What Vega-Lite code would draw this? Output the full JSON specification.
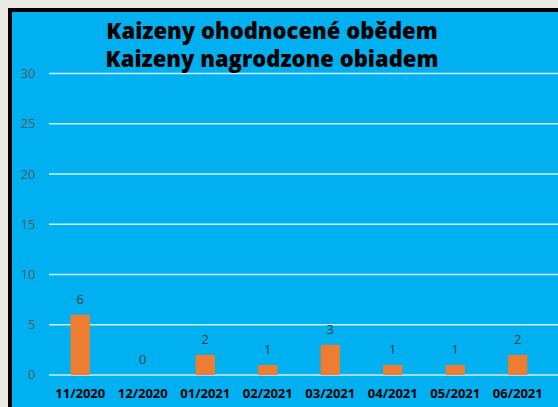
{
  "$schema": "https://vega.github.io/schema/vega-lite/v6.json",
  "width": 578,
  "height": 410,
  "autosize": "none",
  "padding": {"left": 10, "top": 10, "right": 0, "bottom": 0},
  "background": "#E9E8E1",
  "config": {
    "view": {"fill": "#00B0F0", "stroke": "#000000", "strokeWidth": 4},
    "font": "Open Sans"
  },
  "title": {
    "text": ["Kaizeny ohodnocené obědem", "Kaizeny nagrodzone obiadem"],
    "fontSize": 22,
    "fontWeight": 800,
    "font": "Open Sans",
    "color": "#000000",
    "lineHeight": 28,
    "anchor": "middle",
    "frame": "group",
    "offset": -62,
    "dx": -27
  },
  "data": {
    "values": [
      {"m": "11/2020", "v": 6},
      {"m": "12/2020", "v": 0},
      {"m": "01/2021", "v": 2},
      {"m": "02/2021", "v": 1},
      {"m": "03/2021", "v": 3},
      {"m": "04/2021", "v": 1},
      {"m": "05/2021", "v": 1},
      {"m": "06/2021", "v": 2}
    ]
  },
  "layer": [
    {
      "data": {"values": [{"g": 0}, {"g": 5}, {"g": 10}, {"g": 15}, {"g": 20}, {"g": 25}, {"g": 30}]},
      "mark": {"type": "rule", "color": "#D0EEFA", "strokeWidth": 1.5},
      "encoding": {
        "y": {
          "field": "g", "type": "quantitative",
          "scale": {"domain": [-4.48, 36.32], "nice": false, "zero": false},
          "axis": {
            "values": [0, 5, 10, 15, 20, 25, 30], "offset": -39, "title": null,
            "domain": false, "ticks": false, "grid": false,
            "labelColor": "#595959", "labelFontSize": 13, "labelPadding": 14, "labelFont": "Open Sans"
          }
        },
        "x": {
          "datum": "11/2020", "type": "ordinal", "bandPosition": 0,
          "scale": {
            "domain": ["11/2020", "12/2020", "01/2021", "02/2021", "03/2021", "04/2021", "05/2021", "06/2021"],
            "paddingInner": 0, "paddingOuter": 0.624
          },
          "axis": {
            "orient": "bottom", "offset": -45, "title": null, "domain": false, "ticks": false,
            "bandPosition": 0.5,
            "labelAngle": 0, "labelFont": "Open Sans", "labelFontWeight": "bold",
            "labelFontSize": 13, "labelColor": "#000000", "labelPadding": 12
          }
        },
        "x2": {"value": "width"}
      }
    },
    {
      "mark": {"type": "bar", "color": "#ED7D31", "width": {"band": 0.31}},
      "encoding": {
        "x": {"field": "m", "type": "ordinal"},
        "y": {"field": "v", "type": "quantitative"},
        "y2": {"datum": 0}
      }
    },
    {
      "mark": {"type": "text", "dy": -15, "baseline": "middle", "fontSize": 13, "color": "#404040", "font": "Open Sans"},
      "encoding": {
        "x": {"field": "m", "type": "ordinal"},
        "y": {"field": "v", "type": "quantitative"},
        "text": {"field": "v", "type": "quantitative"}
      }
    }
  ]
}
